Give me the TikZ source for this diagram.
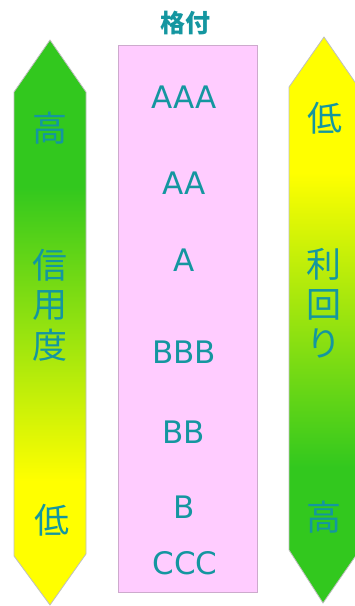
\documentclass[tikz,border=0pt]{standalone}
\usepackage{fontspec}
\newfontfamily\jp{Noto Sans CJK JP}
\newfontfamily\lat{DejaVu Sans}
\usetikzlibrary{positioning}
\definecolor{grn}{RGB}{50,200,30}
\definecolor{ylw}{RGB}{255,255,0}
\definecolor{pnk}{RGB}{255,204,255}
\definecolor{tl}{RGB}{20,150,160}
\pgfdeclareverticalshading{gtoy}{100bp}{color(0bp)=(ylw); color(36bp)=(ylw); color(62bp)=(grn); color(100bp)=(grn)}
\pgfdeclareverticalshading{ytog}{100bp}{color(0bp)=(grn); color(37bp)=(grn); color(63bp)=(ylw); color(100bp)=(ylw)}
\tikzstyle{kanji} = [text=tl, font=\jp\fontsize{35}{35}\selectfont, inner sep=0pt]
\tikzstyle{grade} = [text=tl, font=\lat\fontsize{31}{31}\selectfont, inner sep=0pt]
\tikzstyle{ribbon} = [draw=gray!50, line width=0.8pt]

\begin{document}
\begin{tikzpicture}[x=1pt,y=-1pt]
		\useasboundingbox (0,0) rectangle (355,606);
		% left: credit
		\shade[ribbon, shading=gtoy] (50,40) -- (86,92) -- (86,554) -- (50,605) -- (14,556) -- (14,92) -- cycle;
		% right: yield
		\shade[ribbon, shading=ytog] (324,37) -- (357,85) -- (357,554) -- (323,603) -- (289,550) -- (289,87) -- cycle;
		% ratings
		\filldraw[fill=pnk, draw={rgb,255:red,205;green,170;blue,205}, line width=0.8pt] (118,45) rectangle (257,592);
		
		\node (title) [text=tl, font=\jp\fontsize{25}{25}\selectfont\bfseries, inner sep=0pt] at (185,23) {格付};
		
		\node (aaa) [grade] at (184,97) {AAA};
		\node (aa) [grade] at (184,183) {AA};
		\node (a) [grade] at (184,260) {A};
		\node (bbb) [grade] at (184,352) {BBB};
		\node (bb) [grade] at (184,432) {BB};
		\node (b) [grade] at (184,507) {B};
		\node (ccc) [grade] at (185,563) {CCC};
		
		\node (lhigh) [kanji] at (50,128) {高};
		\node (shin) [kanji] at (50,265) {信};
		\node (you) [kanji, below=9pt of shin] {用};
		\node (do) [kanji, below=8pt of you] {度};
		\node (llow) [kanji] at (52,520) {低};
		
		\node (rlow) [kanji] at (325,118) {低};
		\node (ri) [kanji] at (324,264) {利};
		\node (mawari) [kanji, below=9pt of ri] {回};
		\node (rihira) [kanji, below=8pt of mawari] {り};
		\node (rhigh) [kanji] at (324,517) {高};
	\end{tikzpicture}
\end{document}
